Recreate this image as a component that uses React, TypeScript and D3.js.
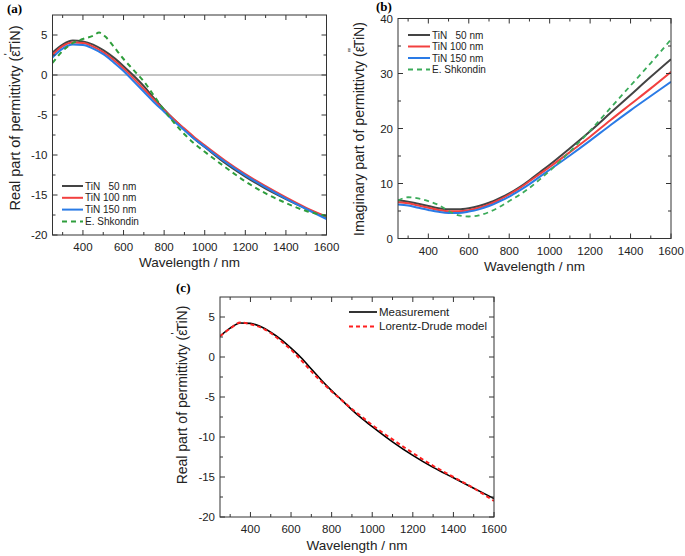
import React from "react";
import * as d3 from "d3";

// ---------- data ----------
const wl = [250, 300, 350, 400, 450, 500, 550, 600, 650, 700, 750, 800, 850, 900, 950, 1000, 1100, 1200, 1300, 1400, 1500, 1600];

// panel (a) real part
const realTiN50 = [2.8, 3.8, 4.3, 4.2, 3.8, 3.1, 2.2, 1.1, -0.1, -1.4, -2.9, -4.3, -5.6, -6.8, -8.0, -9.0, -11.0, -12.7, -14.2, -15.5, -16.7, -17.8];
const realTiN100 = [2.5, 3.6, 4.05, 4.0, 3.55, 2.85, 1.9, 0.8, -0.45, -1.75, -3.1, -4.4, -5.6, -6.7, -7.8, -8.8, -10.7, -12.4, -13.9, -15.3, -16.6, -17.7];
const realTiN150 = [2.2, 3.3, 3.8, 3.75, 3.3, 2.6, 1.6, 0.5, -0.8, -2.1, -3.4, -4.6, -5.8, -6.9, -8.0, -8.95, -10.85, -12.55, -14.05, -15.45, -16.75, -18.0];
const wlShkReal = [250, 300, 350, 400, 450, 480, 510, 550, 600, 650, 700, 750, 800, 850, 900, 950, 1000, 1100, 1200, 1300, 1400, 1500, 1600];
const realShk = [1.5, 3.0, 4.0, 4.5, 4.9, 5.3, 4.8, 3.6, 2.0, 0.6, -0.8, -2.6, -4.4, -6.0, -7.4, -8.6, -9.6, -11.5, -13.3, -14.8, -16.0, -17.0, -17.6];

// panel (b) imaginary part
const imagTiN50 = [6.9, 6.7, 6.3, 5.9, 5.5, 5.3, 5.3, 5.5, 5.9, 6.5, 7.3, 8.2, 9.3, 10.6, 12.0, 13.4, 16.4, 19.5, 22.8, 26.1, 29.4, 32.6];
const imagTiN100 = [6.6, 6.4, 6.0, 5.6, 5.2, 4.95, 4.95, 5.15, 5.6, 6.2, 7.0, 8.0, 9.1, 10.4, 11.7, 13.0, 15.7, 18.5, 21.5, 24.4, 27.3, 30.3];
const imagTiN150 = [6.2, 6.0, 5.6, 5.2, 4.85, 4.65, 4.65, 4.9, 5.3, 5.9, 6.7, 7.6, 8.7, 9.9, 11.2, 12.5, 15.1, 17.8, 20.6, 23.3, 25.9, 28.5];
const imagShk = [6.9, 7.5, 7.3, 6.8, 6.1, 5.0, 4.2, 4.0, 4.2, 4.8, 5.7, 6.8, 7.9, 9.2, 10.7, 12.3, 15.8, 19.6, 23.7, 27.8, 31.9, 36.2];

// panel (c)
const measurement = [2.6, 3.6, 4.25, 4.2, 3.8, 3.1, 2.2, 1.1, -0.1, -1.5, -2.9, -4.2, -5.4, -6.6, -7.7, -8.7, -10.6, -12.3, -13.8, -15.1, -16.4, -17.7];
const lorentzDrude = [2.6, 3.55, 4.3, 4.1, 3.7, 3.0, 2.0, 0.9, -0.4, -1.8, -3.1, -4.3, -5.4, -6.5, -7.5, -8.5, -10.3, -12.0, -13.6, -15.0, -16.4, -18.0];

const xTicks = [400, 600, 800, 1000, 1200, 1400, 1600];
const xMinor = [300, 500, 700, 900, 1100, 1300, 1500];
const realTicks = [-20, -15, -10, -5, 0, 5];
const realMinor = [-17.5, -12.5, -7.5, -2.5, 2.5];
const imagTicks = [0, 10, 20, 30, 40];
const imagMinor = [5, 15, 25, 35];

const legendA = ["TiN   50 nm", "TiN 100 nm", "TiN 150 nm", "E. Shkondin"];
const legendC = ["Measurement", "Lorentz-Drude model"];

// ---------- styles ----------
const SANS = "'Liberation Sans', Arial, sans-serif";
const SERIF = "'Liberation Serif', 'Times New Roman', serif";
const C_BLACK = "#444444";
const C_RED = "#f2403f";
const C_BLUE = "#2a7be6";
const C_GREEN = "#2f9e3c";

type Series = { x: number[]; y: number[]; color: string; width: number; dash?: string };

type PanelProps = {
  left: number; right: number; top: number; bottom: number;
  yDomain: [number, number];
  yTicks: number[]; yMinor: number[];
  series: Series[];
  zeroLine?: boolean;
  titleLabel: string; labelX: number; labelY: number;
  yTitle: React.ReactNode; yTitleX: number; yTitleY: number; yTitleSize: number;
  legend: { labels: string[]; colors: string[]; widths: number[]; dashes: (string | undefined)[]; x1: number; x2: number; y0: number; dy: number; size: number };
  xTitleY: number;
};

function Panel(p: PanelProps) {
  const x = d3.scaleLinear().domain([250, 1600]).range([p.left, p.right]);
  const y = d3.scaleLinear().domain(p.yDomain).range([p.bottom, p.top]);
  const line = (s: Series) =>
    d3.line<number>().x((_, i) => x(s.x[i])).y((v) => y(v)).curve(d3.curveMonotoneX)(s.y) || "";
  const axisColor = "#333";
  const maj = 5, min = 3;
  return (
    <g>
      <defs>
        <clipPath id={"clip" + p.titleLabel}>
          <rect x={p.left} y={p.top} width={p.right - p.left} height={p.bottom - p.top} />
        </clipPath>
      </defs>
      {p.zeroLine && (
        <line x1={p.left} x2={p.right} y1={y(0)} y2={y(0)} stroke="#c4c4c4" strokeWidth={2} />
      )}
      <g clipPath={`url(#clip${p.titleLabel})`}>
        {p.series.map((s, i) => (
          <path key={i} d={line(s)} fill="none" stroke={s.color} strokeWidth={s.width} strokeDasharray={s.dash} />
        ))}
      </g>
      <rect x={p.left} y={p.top} width={p.right - p.left} height={p.bottom - p.top} fill="none" stroke={axisColor} strokeWidth={1} />
      {xTicks.map((t) => (
        <g key={"xt" + t}>
          <line x1={x(t)} x2={x(t)} y1={p.bottom} y2={p.bottom - maj} stroke={axisColor} />
          <line x1={x(t)} x2={x(t)} y1={p.top} y2={p.top + maj} stroke={axisColor} />
          <text x={x(t)} y={p.bottom + 16} fontSize={11.5} fontFamily={SANS} textAnchor="middle" fill="#222">{t}</text>
        </g>
      ))}
      {xMinor.map((t) => (
        <g key={"xm" + t}>
          <line x1={x(t)} x2={x(t)} y1={p.bottom} y2={p.bottom - min} stroke={axisColor} />
          <line x1={x(t)} x2={x(t)} y1={p.top} y2={p.top + min} stroke={axisColor} />
        </g>
      ))}
      {p.yTicks.map((t) => (
        <g key={"yt" + t}>
          <line x1={p.left} x2={p.left + maj} y1={y(t)} y2={y(t)} stroke={axisColor} />
          <line x1={p.right} x2={p.right - maj} y1={y(t)} y2={y(t)} stroke={axisColor} />
          <text x={p.left - 5} y={y(t) + 4} fontSize={11.5} fontFamily={SANS} textAnchor="end" fill="#222">{t}</text>
        </g>
      ))}
      {p.yMinor.map((t) => (
        <g key={"ym" + t}>
          <line x1={p.left} x2={p.left + min} y1={y(t)} y2={y(t)} stroke={axisColor} />
          <line x1={p.right} x2={p.right - min} y1={y(t)} y2={y(t)} stroke={axisColor} />
        </g>
      ))}
      <text x={(p.left + p.right) / 2} y={p.xTitleY} fontSize={13.5} fontFamily={SANS} textAnchor="middle" fill="#222">Wavelength / nm</text>
      <text transform={`translate(${p.yTitleX},${p.yTitleY}) rotate(-90)`} fontSize={p.yTitleSize} fontFamily={SANS} textAnchor="middle" fill="#222">{p.yTitle}</text>
      <text x={p.labelX} y={p.labelY} fontSize={13} fontWeight="bold" fontFamily={SERIF} fill="#000">({p.titleLabel})</text>
      {p.legend.labels.map((lab, i) => {
        const yy = p.legend.y0 + i * p.legend.dy;
        return (
          <g key={"lg" + i}>
            <line x1={p.legend.x1} x2={p.legend.x2} y1={yy} y2={yy} stroke={p.legend.colors[i]} strokeWidth={p.legend.widths[i]} strokeDasharray={p.legend.dashes[i]} />
            <text x={p.legend.x2 + 2} y={yy + 3.5} fontSize={p.legend.size} fontFamily={SANS} fill="#222" style={{ whiteSpace: "pre" }}>{lab}</text>
          </g>
        );
      })}
    </g>
  );
}

const yTitleReal = (
  <>
    <tspan>Real part of permittivty (</tspan>
    <tspan>ε</tspan>
    <tspan fontSize={10} dx={-5} dy={-8}>'</tspan>
    <tspan dy={8} dx={1}>TiN)</tspan>
  </>
);
const yTitleImag = (
  <>
    <tspan>Imaginary part of permittivty (</tspan>
    <tspan>ε</tspan>
    <tspan fontSize={10} dx={-6} dy={-8}>''</tspan>
    <tspan dy={8} dx={0}>TiN)</tspan>
  </>
);

export default function App() {
  const seriesA: Series[] = [
    { x: wl, y: realTiN50, color: C_BLACK, width: 2 },
    { x: wl, y: realTiN100, color: C_RED, width: 2 },
    { x: wl, y: realTiN150, color: C_BLUE, width: 2 },
    { x: wlShkReal, y: realShk, color: C_GREEN, width: 2, dash: "5,4" },
  ];
  const seriesB: Series[] = [
    { x: wl, y: imagTiN50, color: C_BLACK, width: 2 },
    { x: wl, y: imagTiN100, color: C_RED, width: 2 },
    { x: wl, y: imagTiN150, color: C_BLUE, width: 2 },
    { x: wl, y: imagShk, color: "#3bab5a", width: 1.8, dash: "5,4" },
  ];
  const seriesC: Series[] = [
    { x: wl, y: measurement, color: "#000", width: 1.6 },
    { x: wl, y: lorentzDrude, color: "#ff1f1f", width: 2, dash: "4,3" },
  ];
  return (
    <svg width={685} height={556} style={{ position: "absolute", left: 0, top: 0, background: "#fff" }}>
      <rect width={685} height={556} fill="#fff" />
      <Panel
        left={52.5} right={326.5} top={15} bottom={235}
        yDomain={[-20, 7.5]} yTicks={realTicks} yMinor={realMinor}
        series={seriesA} zeroLine
        titleLabel="a" labelX={7} labelY={13}
        yTitle={yTitleReal} yTitleX={20} yTitleY={118} yTitleSize={14.5}
        legend={{ labels: legendA, colors: [C_BLACK, C_RED, C_BLUE, C_GREEN], widths: [2, 2, 2, 2], dashes: [undefined, undefined, undefined, "5,4"], x1: 62, x2: 83, y0: 186, dy: 11.8, size: 10 }}
        xTitleY={267}
      />
      <Panel
        left={398} right={671} top={18.5} bottom={238.5}
        yDomain={[0, 40]} yTicks={imagTicks} yMinor={imagMinor}
        series={seriesB}
        titleLabel="b" labelX={376} labelY={11}
        yTitle={yTitleImag} yTitleX={364} yTitleY={129} yTitleSize={14.2}
        legend={{ labels: legendA, colors: [C_BLACK, C_RED, C_BLUE, "#3bab5a"], widths: [2, 2, 2, 1.8], dashes: [undefined, undefined, undefined, "5,4"], x1: 408, x2: 430, y0: 35, dy: 11.5, size: 10 }}
        xTitleY={271}
      />
      <Panel
        left={220} right={494} top={297} bottom={517}
        yDomain={[-20, 7.5]} yTicks={realTicks} yMinor={realMinor}
        series={seriesC}
        titleLabel="c" labelX={176} labelY={292}
        yTitle={yTitleReal} yTitleX={187} yTitleY={395} yTitleSize={14}
        legend={{ labels: legendC, colors: ["#000", "#ff1f1f"], widths: [1.6, 2], dashes: [undefined, "4,3"], x1: 349, x2: 377, y0: 312, dy: 14.5, size: 11.5 }}
        xTitleY={550}
      />
    </svg>
  );
}
